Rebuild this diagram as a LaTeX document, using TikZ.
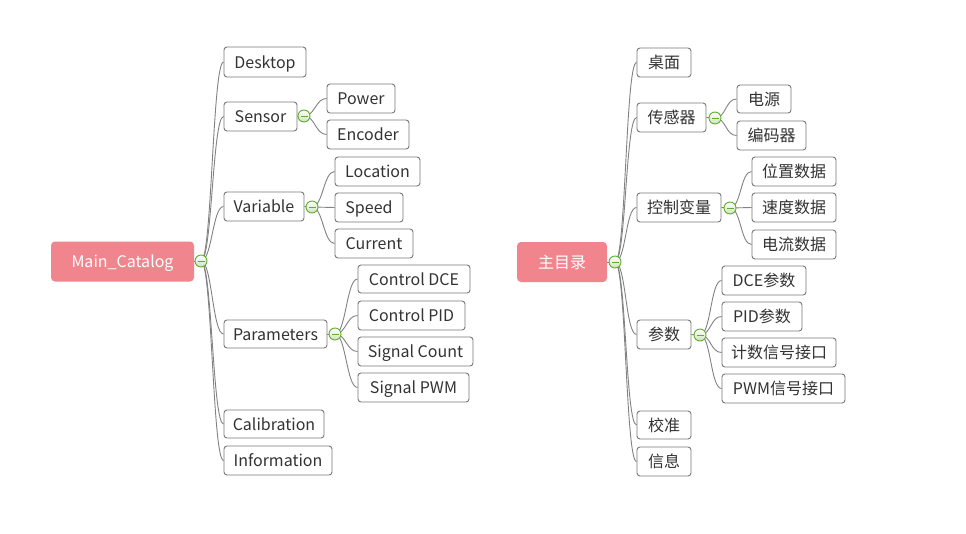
\documentclass[tikz,border=0pt]{standalone}
\usepackage{fontspec}
\setmainfont{Noto Sans CJK SC}
\usetikzlibrary{backgrounds}
\definecolor{rootpink}{RGB}{241,133,142}
\definecolor{boxline}{RGB}{120,120,120}
\definecolor{txt}{RGB}{51,51,51}
\definecolor{conn}{RGB}{130,130,130}
\definecolor{grn}{RGB}{96,174,46}
\definecolor{grnlight}{RGB}{205,226,190}
\tikzset{
  topic/.style={draw=boxline, line width=0.9pt, fill=white, rounded corners=3pt, inner sep=0pt, text=txt, text height=12pt, text depth=0pt, font=\fontsize{16}{18}\selectfont},
  rootbox/.style={fill=rootpink, rounded corners=4pt, inner sep=0pt, text=white, text height=12pt, text depth=0pt, font=\fontsize{16}{18}\selectfont},
  link/.style={draw=conn, line width=0.9pt},
  fold/.style={circle, draw=grn, line width=0.9pt, top color=white, bottom color=grnlight, minimum size=12pt, inner sep=0pt,
    path picture={\draw[grn, line width=1pt] ([xshift=-3.5pt]path picture bounding box.center) -- ([xshift=3.5pt]path picture bounding box.center);}},
}
\newcommand{\tp}[6]{\node[topic, minimum width=#4, minimum height=#5] (#1) at (#2,#3) {#6};}
\newcommand{\lk}[2]{\draw[link] (#1.center) .. controls +(11pt,0pt) and +(-11pt,0pt) .. (#2.west);}
\begin{document}
\begin{tikzpicture}[x=1pt,y=-1pt]
\useasboundingbox (0,0) rectangle (966,533);
% ---------- left tree ----------
\node[rootbox, minimum width=143, minimum height=40] (root) at (122.5,261.5) {Main\_Catalog};
\coordinate (c0) at (201,261);
\coordinate (c1) at (304,116);
\coordinate (c2) at (312,207);
\coordinate (c3) at (335,334);
\tp{desk}{265}{62}{82}{30}{Desktop}
\tp{sensor}{260.5}{116.5}{73}{29}{Sensor}
\tp{power}{361}{98.5}{68}{29}{Power}
\tp{encoder}{368}{134.5}{82}{29}{Encoder}
\tp{variable}{264}{206.5}{80}{29}{Variable}
\tp{location}{377.5}{171.5}{85}{29}{Location}
\tp{speed}{369}{207.5}{68}{29}{Speed}
\tp{current}{374}{243.5}{78}{29}{Current}
\tp{params}{275.5}{334}{103}{28}{Parameters}
\tp{cdce}{414}{279}{112}{28}{Control DCE}
\tp{cpid}{411.5}{315.5}{107}{29}{Control PID}
\tp{scount}{415.5}{351.5}{115}{29}{Signal Count}
\tp{spwm}{413.5}{387.5}{111}{29}{Signal PWM}
\tp{calib}{274}{424}{100}{28}{Calibration}
\tp{info}{278}{460.5}{108}{29}{Information}
% ---------- right tree ----------
\node[rootbox, minimum width=90, minimum height=40] (rroot) at (562,262) {主目录};
\coordinate (r0) at (615,262);
\coordinate (r1) at (715,118);
\coordinate (r2) at (730,208);
\coordinate (r3) at (700,335);
\tp{zm}{664}{62.5}{54}{29}{桌面}
\tp{cgq}{671.5}{117.5}{69}{29}{传感器}
\tp{dy}{764}{99}{54}{28}{电源}
\tp{bmq}{771.5}{135.5}{69}{29}{编码器}
\tp{kzbl}{679}{207.5}{84}{29}{控制变量}
\tp{wz}{794}{171.5}{84}{29}{位置数据}
\tp{sd}{794}{207.5}{84}{29}{速度数据}
\tp{dl}{794}{244.5}{84}{29}{电流数据}
\tp{cs}{664}{334.5}{54}{29}{参数}
\tp{dce}{764}{280.5}{84}{29}{DCE参数}
\tp{pid}{762}{316.5}{80}{29}{PID参数}
\tp{jsxh}{779}{352.5}{114}{29}{计数信号接口}
\tp{pwm}{783.5}{388.5}{123}{29}{PWM信号接口}
\tp{jz}{664}{425}{54}{28}{校准}
\tp{xx}{664}{461.5}{54}{29}{信息}
% ---------- connectors ----------
\begin{scope}[on background layer]
\fill[white] (0,0) rectangle (966,533);
\draw[link] (root.east) -- (c0);
\lk{c0}{desk}\lk{c0}{sensor}\lk{c0}{variable}\lk{c0}{params}\lk{c0}{calib}\lk{c0}{info}
\draw[link] (sensor.east) -- (c1);
\lk{c1}{power}\lk{c1}{encoder}
\draw[link] (variable.east) -- (c2);
\lk{c2}{location}\lk{c2}{speed}\lk{c2}{current}
\draw[link] (params.east) -- (c3);
\lk{c3}{cdce}\lk{c3}{cpid}\lk{c3}{scount}\lk{c3}{spwm}
\draw[link] (rroot.east) -- (r0);
\lk{r0}{zm}\lk{r0}{cgq}\lk{r0}{kzbl}\lk{r0}{cs}\lk{r0}{jz}\lk{r0}{xx}
\draw[link] (cgq.east) -- (r1);
\lk{r1}{dy}\lk{r1}{bmq}
\draw[link] (kzbl.east) -- (r2);
\lk{r2}{wz}\lk{r2}{sd}\lk{r2}{dl}
\draw[link] (cs.east) -- (r3);
\lk{r3}{dce}\lk{r3}{pid}\lk{r3}{jsxh}\lk{r3}{pwm}
\end{scope}
% ---------- fold markers ----------
\foreach \c in {c0,c1,c2,c3,r0,r1,r2,r3} \node[fold] (f\c) at (\c) {};
\end{tikzpicture}
\end{document}
